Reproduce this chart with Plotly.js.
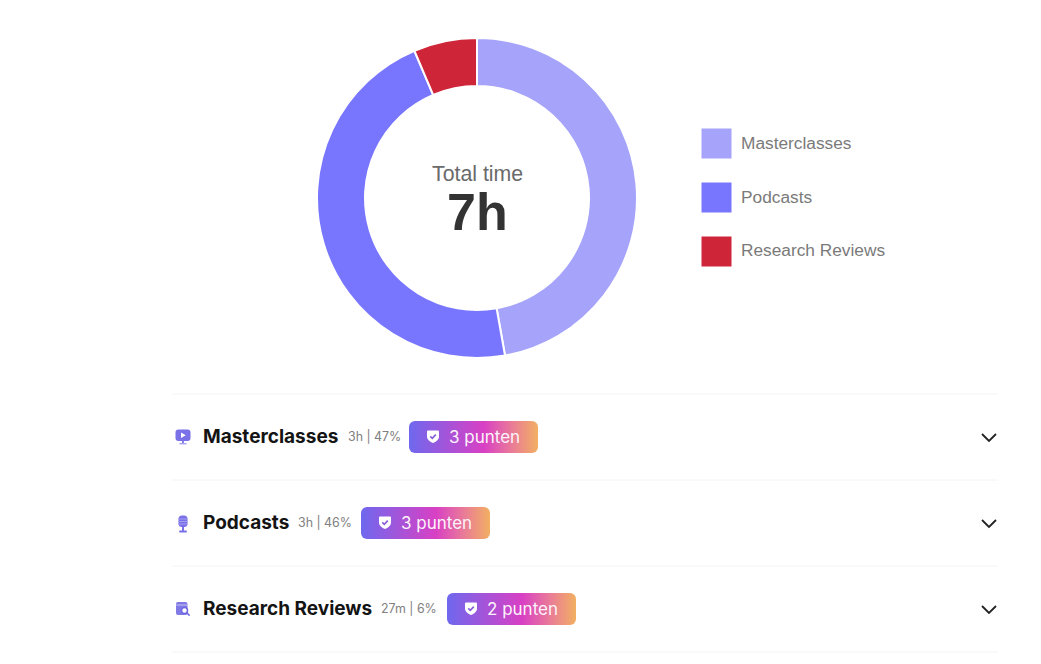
<!DOCTYPE html>
<html>
<head>
<meta charset="utf-8">
<script src="https://cdn.plot.ly/plotly-3.0.1.min.js"></script>
<style>html,body{margin:0;padding:0;background:#fff;overflow:hidden}#chart{width:1041px;height:664px}</style>
</head>
<body>
<div id="chart"></div>
<script>
const categories = ['Masterclasses', 'Podcasts', 'Research Reviews'];
const shareValues = [47.2, 46.4, 6.4];
const durations = ['3h', '3h', '27m'];
const shareLabels = ['47%', '46%', '6%'];
const pointLabels = ['3 punten', '3 punten', '2 punten'];
const centerTitle = 'Total time';
const centerValue = '7h';
const sliceColors = ['#a5a3fa', '#7875ff', '#cf2539'];

const W = 1041, H = 664;
const px = x => x / W, py = y => 1 - y / H;
const svgUri = s => 'data:image/svg+xml;base64,' + btoa(s);

// layout-only placement of each row
const rowY = [437, 523, 609];
const metaX = [348, 298, 381];
const badgeX = [409, 361, 447];
const legendY = [143.5, 197.5, 251.5];
const ruleY = [394, 480, 566, 652];

const badgeSvg = svgUri(`<svg xmlns="http://www.w3.org/2000/svg" width="129" height="32"><defs><linearGradient id="g" x1="0" x2="1" y1="0" y2="0"><stop offset="0" stop-color="#6f68ee"/><stop offset="0.58" stop-color="#d840c4"/><stop offset="0.78" stop-color="#e8769c"/><stop offset="1" stop-color="#f2b062"/></linearGradient></defs><rect width="129" height="32" rx="6" fill="url(#g)"/></svg>`);
const shieldSvg = svgUri(`<svg xmlns="http://www.w3.org/2000/svg" width="14" height="14" viewBox="0 0 14 14"><path d="M1 2 Q1 1 2 1 L12 1 Q13 1 13 2 L13 7 C13 10 10 12.5 7 13.5 C4 12.5 1 10 1 7 Z" fill="#fff"/><path d="M4.3 6.8 L6.3 8.8 L9.8 5.2" stroke="#8a5fd8" stroke-width="1.7" fill="none"/></svg>`);
const icons = [
  `<svg xmlns="http://www.w3.org/2000/svg" width="16" height="16" viewBox="0 0 16 16"><rect x="0.5" y="0.5" width="15" height="11.5" rx="3" fill="#7a70e8"/><path d="M6 3.6 L10.8 6.3 L6 9 Z" fill="#fff"/><rect x="7" y="12" width="2" height="2" fill="#8a82ea"/><rect x="4.5" y="14" width="7" height="1.4" fill="#a5a0f0"/></svg>`,
  `<svg xmlns="http://www.w3.org/2000/svg" width="16" height="18" viewBox="0 0 16 18"><rect x="3.5" y="0.5" width="9" height="11.5" rx="3.5" fill="#7a70e8"/><path d="M3 4 H13 M3 6.5 H13 M3 9 H13" stroke="#a5a0f0" stroke-width="1"/><rect x="7" y="12" width="2" height="4" fill="#7a70e8"/><rect x="4" y="15.6" width="8" height="2" rx="1" fill="#7a70e8"/></svg>`,
  `<svg xmlns="http://www.w3.org/2000/svg" width="16" height="16" viewBox="0 0 16 16"><rect x="1" y="1" width="11.5" height="13" rx="2" fill="#8079e6"/><path d="M1 4 H12.5" stroke="#c5c2f5" stroke-width="1"/><circle cx="9.5" cy="9.5" r="3" fill="#fff" stroke="#6f68e0" stroke-width="1.5"/><path d="M11.8 11.8 L14.6 14.6" stroke="#6f68e0" stroke-width="1.6"/></svg>`
];

const images = [], annotations = [], shapes = [];
const addImg = (src, x, y, w, h) => images.push({source: src, xref: 'paper', yref: 'paper', x: px(x), y: py(y), sizex: w / W, sizey: h / H, sizing: 'stretch', xanchor: 'left', yanchor: 'top', layer: 'above'});
const addText = (text, x, y, size, color, family, anchor) => annotations.push({text, xref: 'paper', yref: 'paper', x: px(x), y: py(y), xanchor: anchor || 'left', yanchor: 'middle', showarrow: false, font: {size, color, family}, borderpad: 0, borderwidth: 0});

const arial = 'Liberation Sans, Arial, sans-serif', inter = 'Inter, sans-serif';

addText(centerTitle, 477, 174, 21.3, '#6a6a6a', arial, 'center');
addText('<b>' + centerValue + '</b>', 477, 212, 52, '#333333', arial, 'center');

categories.forEach((c, i) => {
  shapes.push({type: 'rect', xref: 'paper', yref: 'paper', x0: px(701.5), x1: px(731.5), y0: py(legendY[i] - 15), y1: py(legendY[i] + 15), fillcolor: sliceColors[i], line: {width: 0}});
  addText(c, 741, legendY[i] - 1, 17.3, '#7a7a7a', arial);

  const y = rowY[i];
  addImg(svgUri(icons[i]), 175, y - 8, 16, i === 1 ? 18 : 16);
  addText('<b>' + c + '</b>', 203, y - 0.5, 19, '#141414', inter);
  addText(durations[i] + ' | ' + shareLabels[i], metaX[i], y - 0.5, 12.4, '#808080', inter);
  addImg(badgeSvg, badgeX[i], y - 16, 129, 32);
  addImg(shieldSvg, badgeX[i] + 17, y - 7.5, 14, 14);
  addText(pointLabels[i], badgeX[i] + 39.5, y, 17, '#fdf3fb', inter);
  shapes.push({type: 'path', xref: 'paper', yref: 'paper',
    path: `M ${px(982)} ${py(y - 3)} L ${px(989)} ${py(y + 4)} L ${px(996)} ${py(y - 3)}`,
    line: {color: '#222222', width: 1.8}});
});
ruleY.forEach(y => shapes.push({type: 'line', xref: 'paper', yref: 'paper', x0: px(172), x1: px(998), y0: py(y), y1: py(y), line: {color: '#f4f4f4', width: 1}}));

Plotly.newPlot('chart', [{
  type: 'pie',
  labels: categories,
  values: shareValues,
  hole: 0.70,
  sort: false,
  direction: 'clockwise',
  rotation: 0,
  textinfo: 'none',
  hoverinfo: 'label+percent',
  marker: {colors: sliceColors, line: {color: '#ffffff', width: 2}},
  domain: {x: [px(317), px(637)], y: [py(358), py(38)]}
}], {
  width: W, height: H,
  margin: {l: 0, r: 0, t: 0, b: 0, pad: 0},
  paper_bgcolor: '#ffffff',
  showlegend: false,
  images, annotations, shapes
}, {displayModeBar: false, staticPlot: true});
</script>
</body>
</html>
